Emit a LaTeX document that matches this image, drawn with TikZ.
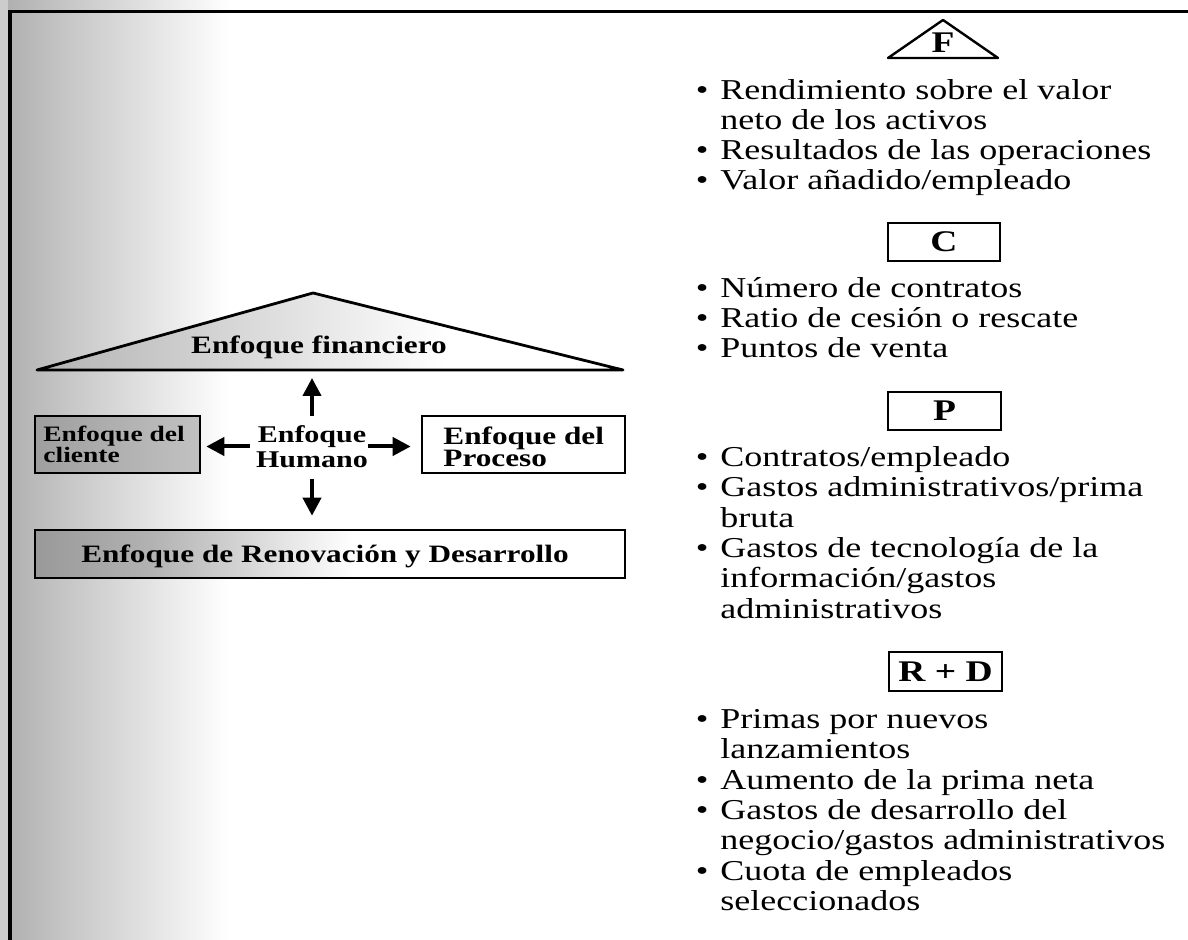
\documentclass[tikz,border=0pt]{standalone}
\usepackage{fontspec}
\setmainfont{Liberation Serif}[FakeStretch=1.25]
\usetikzlibrary{arrows.meta}
\newcommand{\bul}{\llap{\textbullet\hspace{6pt}}}
\pgfdeclarehorizontalshading{fadeL}{100bp}{color(0bp)=(black!40); color(25bp)=(black!40); color(35bp)=(black!30); color(52bp)=(white); color(100bp)=(white)}
\pgfdeclarehorizontalshading{fadeT}{100bp}{color(0bp)=(black!30); color(25bp)=(black!30); color(37bp)=(black!20); color(60bp)=(white); color(100bp)=(white)}
\pgfdeclarehorizontalshading{fadeBG}{100bp}{color(0bp)=(black!32); color(25bp)=(black!32); color(40bp)=(black!22); color(75bp)=(white); color(100bp)=(white)}
\begin{document}
\begin{tikzpicture}[x=0.5pt,y=-0.5pt,
  lst/.style={anchor=base west,inner sep=0pt,font=\fontsize{14.4}{15}\selectfont},
  tagbox/.style={draw,line width=1.2pt,inner sep=0pt,font=\bfseries\fontsize{15}{15}\selectfont},
  boxst/.style={draw,line width=1.3pt,inner sep=0pt},
  lbl/.style={inner sep=0pt,font=\bfseries\fontsize{12.5}{12.5}\selectfont},
  arr/.style={line width=2pt,-{Triangle[length=9pt,width=9pt]}}
]
\useasboundingbox (0,0) rectangle (1188,940);
% scan background
\shade[shading=fadeBG] (0,0) rectangle (230,940);
\fill[black!20] (0,0) rectangle (8,940);
\draw[line width=1.5pt] (8,12) -- (1188,12);
\draw[line width=2pt] (10,12) -- (10,940);

% ---------- left diagram ----------
\path[draw,line width=1.4pt,line join=round,shading=fadeT]
  (37,370) -- (313,293) -- (623,370) -- cycle;
\node[lbl,anchor=base] (fin) at (319,354) {Enfoque financiero};
\coordinate (finbase) at (312,370);

\node[boxst,minimum width=82.5pt,minimum height=28.5pt,left color=black!38,right color=black!24] (cli) at (117.5,444.5) {};
\node[lbl,anchor=base west,font=\bfseries\fontsize{11}{11}\selectfont] (cliA) at (43,442) {Enfoque del};
\node[lbl,anchor=base west,font=\bfseries\fontsize{11}{11}\selectfont] (cliB) at (43,463) {cliente};

\node[boxst,minimum width=101.5pt,minimum height=28.5pt,fill=white] (pro) at (523.5,444.5) {};
\node[lbl,anchor=base west] (proA) at (443,445) {Enfoque del};
\node[lbl,anchor=base west] (proB) at (443,467) {Proceso};

\node[boxst,minimum width=295pt,minimum height=24pt,shading=fadeL] (ren) at (330,554) {};
\node[lbl,anchor=base] (renT) at (325,562) {Enfoque de Renovación y Desarrollo};

\node[inner sep=0pt,align=center,font=\bfseries\fontsize{12}{12.5}\selectfont] (hum) at (312,446.5) {Enfoque\\Humano};

\draw[arr,shorten <=4.4pt,shorten >=4pt] (hum.north) -- (finbase);
\draw[arr,shorten <=5.5pt,shorten >=6.5pt] (hum.south) -- (hum.south |- ren.north);
\draw[arr,shorten <=3pt,shorten >=2.5pt] (hum.west) -- (hum.west -| cli.east);
\draw[arr,shorten >=5pt] (hum.east) -- (hum.east -| pro.west);

% ---------- right column ----------
\draw[line width=1.2pt,line join=round] (888,58) -- (943,20) -- (998,58) -- cycle;
\node[inner sep=0pt,anchor=base,font=\bfseries\fontsize{15}{15}\selectfont] (F) at (943,53) {F};
\node[lst] (f1) at (720,100) {\bul Rendimiento sobre el valor};
\node[lst] (f2) at (720,130) {neto de los activos};
\node[lst] (f3) at (720,160) {\bul Resultados de las operaciones};
\node[lst] (f4) at (720,190) {\bul Valor añadido/empleado};

\node[tagbox,minimum width=56pt,minimum height=19pt] (C) at (944,242) {C};
\node[lst] (c1) at (720,298) {\bul Número de contratos};
\node[lst] (c2) at (720,328) {\bul Ratio de cesión o rescate};
\node[lst] (c3) at (720,358) {\bul Puntos de venta};

\node[tagbox,minimum width=56.5pt,minimum height=19pt] (P) at (944.5,411) {P};
\node[lst] (p1) at (720,467) {\bul Contratos/empleado};
\node[lst] (p2) at (720,497) {\bul Gastos administrativos/prima};
\node[lst] (p3) at (720,528) {bruta};
\node[lst] (p4) at (720,558) {\bul Gastos de tecnología de la};
\node[lst] (p5) at (720,588) {información/gastos};
\node[lst] (p6) at (720,618) {administrativos};

\node[tagbox,minimum width=56.5pt,minimum height=19.5pt] (RD) at (945.5,671.5) {R + D};
\node[lst] (r1) at (720,728) {\bul Primas por nuevos};
\node[lst] (r2) at (720,758) {lanzamientos};
\node[lst] (r3) at (720,789) {\bul Aumento de la prima neta};
\node[lst] (r4) at (720,819) {\bul Gastos de desarrollo del};
\node[lst] (r5) at (720,849) {negocio/gastos administrativos};
\node[lst] (r6) at (720,880) {\bul Cuota de empleados};
\node[lst] (r7) at (720,910) {seleccionados};
\end{tikzpicture}
\end{document}
